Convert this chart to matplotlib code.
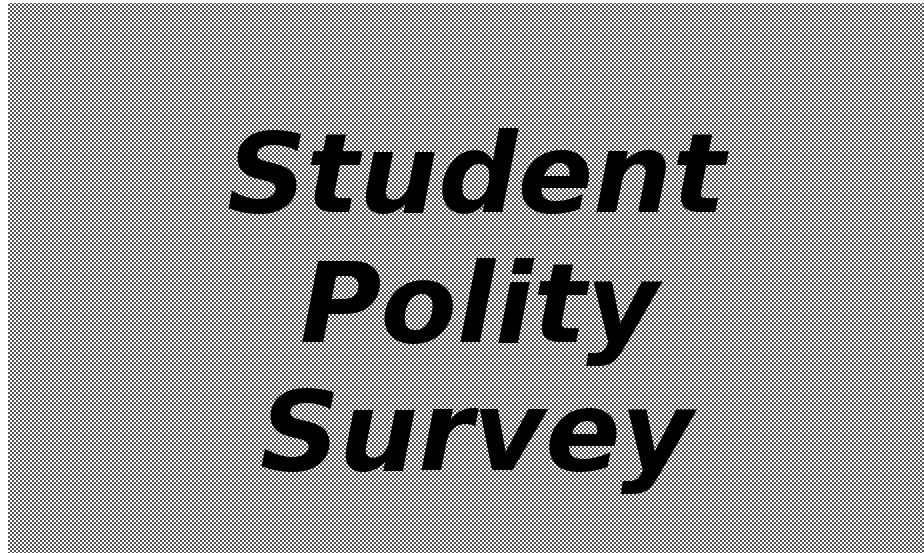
import numpy as np
import matplotlib
matplotlib.use('Agg')
import matplotlib.pyplot as plt

# title lines, their baselines (px from top) and centre x (px)
lines = ['Student', 'Polity', 'Survey']
baselines = [212, 342, 470]
centres = [476, 480, 476]

W, H = 924, 553

fig = plt.figure(figsize=(W / 100, H / 100), dpi=100)
ax = fig.add_axes([0, 0, 1, 1])
ax.set_axis_off()

# halftone-looking grey screen
yy, xx = np.mgrid[0:H, 0:W]
screen = np.where(((xx // 2) + (yy // 2)) % 2 == 0, 0.33, 0.98)
screen[:, :8] = 1.0
screen[:3, :] = 1.0
ax.imshow(screen, cmap='gray', vmin=0, vmax=1, interpolation='nearest',
          extent=[0, W, H, 0], aspect='auto')
ax.set_xlim(0, W)
ax.set_ylim(H, 0)

for txt, yb, xc in zip(lines, baselines, centres):
    ax.text(xc, yb, txt, ha='center', va='baseline', fontsize=80,
            family='DejaVu Sans', weight='bold', style='oblique', color='black')

fig.savefig('out.png', dpi=100)
